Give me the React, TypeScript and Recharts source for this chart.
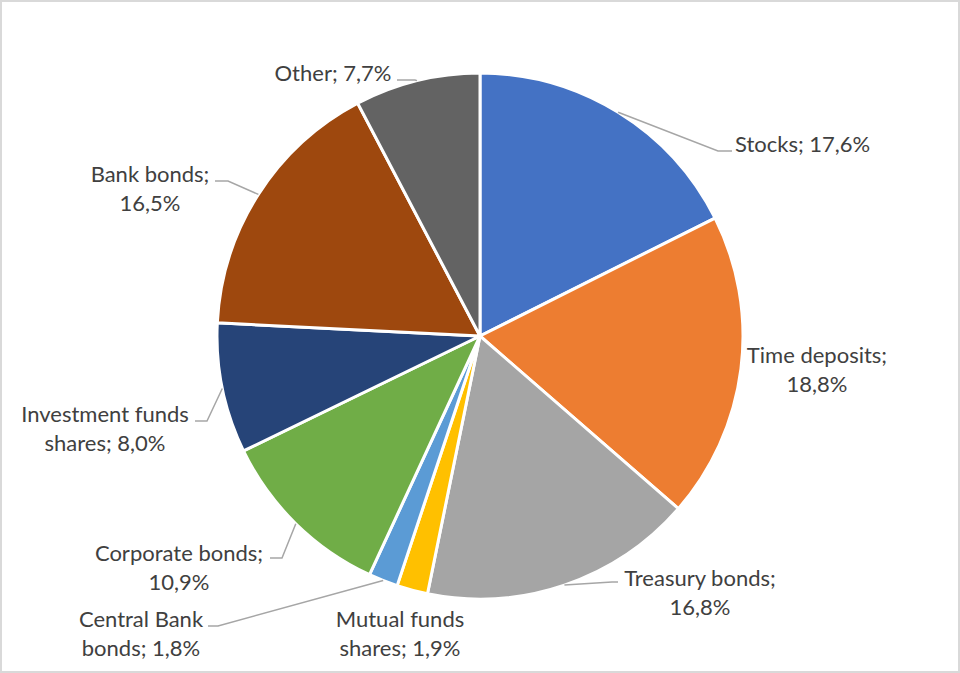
import React from 'react';
import { PieChart, Pie, Cell } from 'recharts';

const categories = [
  'Stocks',
  'Time deposits',
  'Treasury bonds',
  'Mutual funds shares',
  'Central Bank bonds',
  'Corporate bonds',
  'Investment funds shares',
  'Bank bonds',
  'Other',
];
const shares = [17.6, 18.8, 16.8, 1.9, 1.8, 10.9, 8.0, 16.5, 7.7];

const COLORS = ['#4472C4', '#ED7D31', '#A5A5A5', '#FFC000', '#5B9BD5', '#70AD47', '#264478', '#9E480E', '#636363'];

const data = categories.map((name, i) => ({ name, value: shares[i] }));

// label placement relative to the pie centre (Excel "best fit" look)
type LabelSpec = {
  x: number;
  y: number;
  anchor: 'start' | 'middle' | 'end';
  split: number; // words on first line, 0 = single line
  leader?: [number, number][];
};
const LABELS: Record<string, LabelSpec> = {
  'Stocks': { x: 255, y: -193, anchor: 'start', split: 0, leader: [[238, -185], [252, -185]] },
  'Time deposits': { x: 337, y: 18, anchor: 'middle', split: 2 },
  'Treasury bonds': { x: 220, y: 241, anchor: 'middle', split: 2, leader: [[132, 246], [138, 246]] },
  'Mutual funds shares': { x: -80, y: 282, anchor: 'middle', split: 2 },
  'Central Bank bonds': { x: -339, y: 282, anchor: 'middle', split: 2, leader: [[-262, 290], [-272, 290]] },
  'Corporate bonds': { x: -301, y: 216, anchor: 'middle', split: 2, leader: [[-198, 222], [-210, 222]] },
  'Investment funds shares': { x: -375, y: 77, anchor: 'middle', split: 2, leader: [[-273, 85], [-285, 85]] },
  'Bank bonds': { x: -330, y: -163, anchor: 'middle', split: 2, leader: [[-252, -155], [-265, -155]] },
  'Other': { x: -147, y: -264, anchor: 'middle', split: 0, leader: [[-65, -256], [-83, -256]] },
};

const RADIAN = Math.PI / 180;
const LINE_H = 29;

const renderLabel = (props: any) => {
  const { cx, cy, midAngle, outerRadius, index } = props;
  const name = categories[index];
  const spec = LABELS[name];
  const pct = shares[index].toFixed(1).replace('.', ',') + '%';
  const words = `${name}; ${pct}`.split(' ');
  const lines = spec.split ? [words.slice(0, spec.split).join(' '), words.slice(spec.split).join(' ')] : [words.join(' ')];
  const ex = cx + outerRadius * Math.cos(-midAngle * RADIAN);
  const ey = cy + outerRadius * Math.sin(-midAngle * RADIAN);
  const pts = spec.leader ? [[ex, ey], ...spec.leader.map(([dx, dy]) => [cx + dx, cy + dy])] : null;
  return (
    <g key={`lbl-${index}`}>
      {pts && (
        <polyline
          points={pts.map((p) => p.join(',')).join(' ')}
          fill="none"
          stroke="#A6A6A6"
          strokeWidth={1.5}
        />
      )}
      {lines.map((t, i) => (
        <text
          key={i}
          x={cx + spec.x}
          y={cy + spec.y + i * LINE_H}
          textAnchor={spec.anchor}
          dominantBaseline="central"
          fill="#404040"
          fontSize={22}
          fontFamily="Lato, 'Open Sans', sans-serif"
        >
          {t}
        </text>
      ))}
    </g>
  );
};

export default function App() {
  return (
    <div
      style={{
        position: 'absolute',
        left: 0,
        top: 0,
        width: 960,
        height: 673,
        border: '2px solid #D9D9D9',
        boxSizing: 'border-box',
        background: '#fff',
      }}
    >
      <PieChart width={956} height={669} margin={{ top: 0, right: 0, bottom: 0, left: 0 }}>
        <Pie
          data={data}
          dataKey="value"
          nameKey="name"
          cx={478}
          cy={334}
          outerRadius={263}
          startAngle={90}
          endAngle={-270}
          stroke="#FFFFFF"
          strokeWidth={3}
          label={renderLabel}
          labelLine={false}
          isAnimationActive={false}
        >
          {data.map((d, i) => (
            <Cell key={d.name} fill={COLORS[i]} />
          ))}
        </Pie>
      </PieChart>
    </div>
  );
}
